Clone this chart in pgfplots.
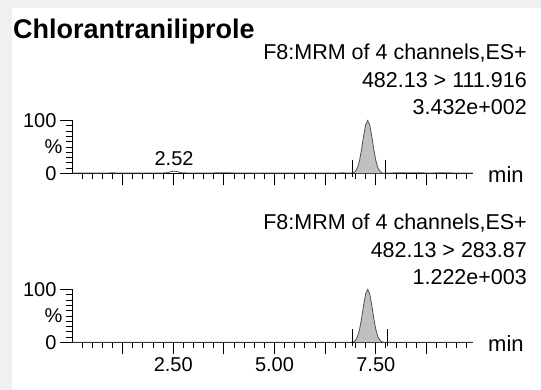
\documentclass[border=0pt]{standalone}
\usepackage{pgfplots}
\pgfplotsset{compat=1.18}
\usepackage{fontspec}
\setmainfont{Liberation Sans}
\newcommand\fs[1]{\fontsize{#1}{#1}\selectfont}
\newcommand\hd[1]{{\fs{21.5}#1}}
\definecolor{peakfill}{HTML}{C0C0C0}
\definecolor{trace}{HTML}{505050}
\pgfplotsset{chrom/.style={
  scale only axis, width=401pt, height=53pt,
  xmin=0, xmax=9.9, ymin=0, ymax=100,
  axis x line*=bottom, axis y line*=left,
  tick align=outside,
  xtick={1.25,2.5,3.75,5,6.25,7.5,8.75},
  minor xtick={0.25,0.5,0.75,1,1.5,1.75,2,2.25,2.75,3,3.25,3.5,4,4.25,4.5,4.75,5.25,5.5,5.75,6,6.5,6.75,7,7.25,7.75,8,8.25,8.5,9,9.25,9.5,9.75},
  ytick={0,100}, yticklabels={0,100},
  minor ytick={10,20,30,40,60,70,80,90},
  extra y ticks={50}, extra y tick labels={\%},
  extra y tick style={major tick length=6pt},
  major tick length=12pt, minor tick length=6pt,
  tick style={black, line width=0.9pt},
  axis line style={black, line width=0.9pt},
  tick label style={font=\fs{20}},
  /pgf/number format/assume math mode=true,
  clip=false,
}}
\begin{document}
\begin{tikzpicture}
\path[use as bounding box] (0,0) rectangle (541pt,390pt);
\fill[black!6] (0,0) rectangle (541pt,390pt);
\fill[white] (12pt,0) rectangle (541pt,382pt);
% texts
\node[anchor=base west, inner sep=0pt, font=\fs{27}\bfseries] at (13pt,351pt) {Chlorantraniliprole};
\node[anchor=base east, inner sep=0pt] at (527pt,330pt) {\hd{F8:MRM of 4 channels,ES+}};
\node[anchor=base east, inner sep=0pt] at (527pt,302.5pt) {\hd{482.13 > 111.916}};
\node[anchor=base east, inner sep=0pt] at (527pt,275pt) {\hd{3.432e+002}};
\node[anchor=base east, inner sep=0pt] at (527pt,160pt) {\hd{F8:MRM of 4 channels,ES+}};
\node[anchor=base east, inner sep=0pt] at (527pt,132.5pt) {\hd{482.13 > 283.87}};
\node[anchor=base east, inner sep=0pt] at (527pt,105pt) {\hd{1.222e+003}};
\node[anchor=base west, inner sep=0pt, font=\fs{22}] at (488pt,207pt) {min};
\node[anchor=base west, inner sep=0pt, font=\fs{22}] at (488pt,38pt) {min};
% top panel
\begin{axis}[chrom, at={(72pt,216.5pt)}, anchor=south west, xticklabels={}]
\addplot[fill=peakfill, draw=none] coordinates {
(6.95,1.4) (7.00,4.4) (7.05,11.4) (7.10,24.9) (7.15,45.8) (7.20,70.7) (7.25,91.7) (7.30,100) (7.35,91.7) (7.40,70.7) (7.45,45.8) (7.50,24.9) (7.55,11.4) (7.60,4.4) (7.65,1.4) (7.70,0.6)} \closedcycle;
\addplot[trace, line width=0.8pt] coordinates {
(0,0.8) (0.3,1.0) (0.6,0.7) (1.0,1.2) (1.4,0.8) (1.8,1.0) (2.2,0.9) (2.35,1.5) (2.45,3.5) (2.52,4.5) (2.6,3.5) (2.7,1.5) (2.9,0.8) (3.3,1.0) (3.8,1.3) (4.2,0.9) (4.6,0.7) (5.0,0.9) (5.5,0.8) (6.0,1.0) (6.4,0.9) (6.7,1.2) (6.90,0.8)
(6.95,1.4) (7.00,4.4) (7.05,11.4) (7.10,24.9) (7.15,45.8) (7.20,70.7) (7.25,91.7) (7.30,100) (7.35,91.7) (7.40,70.7) (7.45,45.8) (7.50,24.9) (7.55,11.4) (7.60,4.4) (7.65,1.4) (7.70,0.6)
(7.8,1.0) (8.0,1.2) (8.4,1.5) (8.8,1.0) (9.2,1.3) (9.6,0.9) (9.9,1.0)};
\addplot[black, line width=0.9pt] coordinates {(6.93,-7) (6.93,25)};
\addplot[black, line width=0.9pt] coordinates {(7.73,-7) (7.73,25)};
\node[anchor=base, inner sep=0pt, font=\fs{20}] at (axis cs:2.52,15) {2.52};
\end{axis}
% bottom panel
\begin{axis}[chrom, at={(72pt,47.5pt)}, anchor=south west, xticklabels={,2.50,,5.00,,7.50,}]
\addplot[fill=peakfill, draw=none] coordinates {
(6.95,1.4) (7.00,4.4) (7.05,11.4) (7.10,24.9) (7.15,45.8) (7.20,70.7) (7.25,91.7) (7.30,100) (7.35,91.7) (7.40,70.7) (7.45,45.8) (7.50,24.9) (7.55,11.4) (7.60,4.4) (7.65,1.4) (7.70,0.5)} \closedcycle;
\addplot[trace, line width=0.8pt] coordinates {
(0,0.3) (1.0,0.4) (2.0,0.3) (3.0,0.4) (4.0,0.3) (5.0,0.4) (6.0,0.3) (6.90,0.4)
(6.95,1.4) (7.00,4.4) (7.05,11.4) (7.10,24.9) (7.15,45.8) (7.20,70.7) (7.25,91.7) (7.30,100) (7.35,91.7) (7.40,70.7) (7.45,45.8) (7.50,24.9) (7.55,11.4) (7.60,4.4) (7.65,1.4) (7.70,0.5)
(8.0,0.3) (9.0,0.4) (9.9,0.3)};
\addplot[black, line width=0.9pt] coordinates {(6.93,-7) (6.93,25)};
\addplot[black, line width=0.9pt] coordinates {(7.78,-7) (7.78,25)};
\end{axis}
\end{tikzpicture}
\end{document}
